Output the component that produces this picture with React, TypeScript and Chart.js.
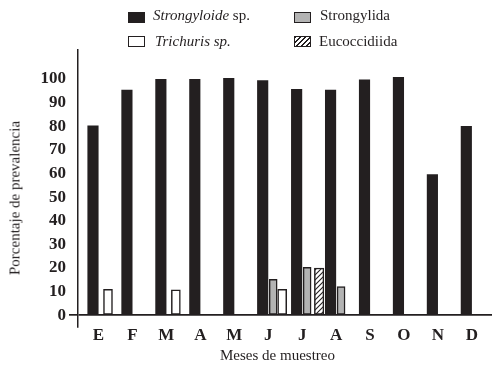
import React, { useEffect, useRef } from 'react';
import { Chart, registerables } from 'chart.js';

Chart.register(...registerables);

// ---- data ----
const months = ['E', 'F', 'M', 'A', 'M', 'J', 'J', 'A', 'S', 'O', 'N', 'D'];
const strongyloide = [80.2, 95.3, 99.9, 99.9, 100.3, 99.3, 95.6, 95.3, 99.7, 100.7, 59.5, 80.0];
const strongylida = [null, null, null, null, null, 15.2, 20.3, 12.1, null, null, null, null];
const trichuris = [11.0, null, 10.7, null, null, 11.0, null, null, null, null, null, null];
const eucoccidiida = [null, null, null, null, null, null, 20.0, null, null, null, null, null];
const yTicks = [0, 10, 20, 30, 40, 50, 60, 70, 80, 90, 100];
const xTitle = 'Meses de muestreo';
const yTitle = 'Porcentaje de prevalencia';

const INK = '#231f20';
const GRAY = '#b3b3b3';
const SERIF = '"Liberation Serif", "DejaVu Serif", serif';

const toPoints = (arr: (number | null)[]) => arr.map((y, x) => ({ x, y }));

function makeHatch(): CanvasPattern | string {
  const c = document.createElement('canvas');
  c.width = 5;
  c.height = 5;
  const g = c.getContext('2d');
  if (!g) return '#ffffff';
  g.fillStyle = '#ffffff';
  g.fillRect(0, 0, 5, 5);
  g.strokeStyle = INK;
  g.lineWidth = 1.1;
  g.beginPath();
  g.moveTo(0, 5);
  g.lineTo(5, 0);
  g.moveTo(-1, 1);
  g.lineTo(1, -1);
  g.moveTo(4, 6);
  g.lineTo(6, 4);
  g.stroke();
  return g.createPattern(c, 'repeat') || '#ffffff';
}

const legendText: React.CSSProperties = {
  position: 'absolute',
  fontFamily: SERIF,
  fontSize: 15,
  lineHeight: '15px',
  color: INK,
  whiteSpace: 'nowrap',
};

const box = (extra: React.CSSProperties): React.CSSProperties => ({
  position: 'absolute',
  width: 17,
  height: 11,
  boxSizing: 'border-box',
  border: `1.5px solid ${INK}`,
  ...extra,
});

export default function App() {
  const canvasRef = useRef<HTMLCanvasElement | null>(null);

  useEffect(() => {
    const canvas = canvasRef.current;
    if (!canvas) return;
    const hatch = makeHatch();
    const zeroOnly = (ctx: any) => (ctx.tick && ctx.tick.value === 0 ? INK : 'rgba(0,0,0,0)');

    const chart = new Chart(canvas, {
      type: 'bar',
      data: {
        datasets: [
          {
            label: 'Strongyloide sp.',
            data: toPoints(strongyloide),
            stack: 'a',
            backgroundColor: INK,
            borderWidth: 0,
            barThickness: 10.5,
            maxBarThickness: 10.5,
          },
          {
            label: 'Strongylida',
            data: toPoints(strongylida),
            stack: 'b',
            backgroundColor: GRAY,
            borderColor: INK,
            borderWidth: 1.5,
            borderSkipped: false,
            barThickness: 10.5,
            maxBarThickness: 8,
          },
          {
            label: 'Trichuris sp.',
            data: toPoints(trichuris),
            stack: 'c',
            skipNull: true,
            backgroundColor: '#ffffff',
            borderColor: INK,
            borderWidth: 1.5,
            borderSkipped: false,
            barThickness: 9,
            maxBarThickness: 9,
          },
          {
            label: 'Eucoccidiida',
            data: toPoints(eucoccidiida),
            stack: 'c',
            skipNull: true,
            backgroundColor: hatch,
            borderColor: INK,
            borderWidth: 1.5,
            borderSkipped: false,
            barThickness: 12,
            maxBarThickness: 9.5,
          },
        ] as any,
      },
      options: {
        responsive: false,
        maintainAspectRatio: false,
        animation: false,
        events: [],
        layout: { padding: { left: 6, right: 0, top: 50, bottom: 11 } },
        plugins: {
          legend: { display: false },
          tooltip: { enabled: false },
        },
        scales: {
          x: {
            type: 'linear',
            min: -0.751,
            max: 11.447,
            offset: false,
            afterBuildTicks: (s: any) => {
              s.ticks = months.map((_, i) => ({ value: i }));
            },
            afterFit: (s: any) => {
              s.height = 37;
            },
            grid: { display: false, drawTicks: false },
            border: { display: false },
            ticks: {
              autoSkip: false,
              maxRotation: 0,
              padding: 0,
              labelOffset: -5,
              color: INK,
              font: { family: SERIF, size: 17, weight: 'bold', lineHeight: 1 },
              callback: (_v: any, i: number) => months[i],
            },
            title: { display: false },
          },
          y: {
            min: -5,
            max: 112.3,
            stacked: false,
            afterBuildTicks: (s: any) => {
              s.ticks = yTicks.map((v) => ({ value: v }));
            },
            afterFit: (s: any) => {
              s.width = 72;
            },
            grid: {
              color: zeroOnly,
              tickColor: zeroOnly,
              lineWidth: 1.7,
              tickLength: 9,
              drawTicks: true,
            },
            border: { display: true, color: INK, width: 1.5 },
            ticks: {
              padding: 3,
              color: INK,
              font: { family: SERIF, size: 17, weight: 'bold' },
            },
            title: { display: false },
          },
        },
      } as any,
    });
    return () => chart.destroy();
  }, []);

  return (
    <div
      style={{
        position: 'fixed',
        left: 0,
        top: 0,
        width: 492,
        height: 375,
        background: '#ffffff',
        overflow: 'hidden',
      }}
    >
      <canvas ref={canvasRef} width={492} height={375} style={{ display: 'block', width: 492, height: 375 }} />
      {/* axis titles */}
      <div
        style={{
          ...legendText,
          left: 277.5,
          top: 355,
          transform: 'translate(-50%, -50%)',
        }}
      >
        {xTitle}
      </div>
      <div
        style={{
          ...legendText,
          left: 15,
          top: 197.5,
          transform: 'translate(-50%, -50%) rotate(-90deg)',
        }}
      >
        {yTitle}
      </div>
      {/* legend */}
      <div style={box({ left: 128, top: 12, background: INK })} />
      <div style={{ ...legendText, left: 153, top: 8 }}>
        <i>Strongyloide</i> sp.
      </div>
      <div style={box({ left: 128, top: 35.5, background: '#ffffff' })} />
      <div style={{ ...legendText, left: 155, top: 33.5 }}>
        <i>Trichuris sp.</i>
      </div>
      <div style={box({ left: 294, top: 11.5, background: GRAY })} />
      <div style={{ ...legendText, left: 320, top: 8 }}>Strongylida</div>
      <div
        style={box({
          left: 294,
          top: 35.5,
          background: `repeating-linear-gradient(135deg, ${INK} 0px, ${INK} 1px, #ffffff 1px, #ffffff 3.5px)`,
        })}
      />
      <div style={{ ...legendText, left: 319, top: 33.5 }}>Eucoccidiida</div>
    </div>
  );
}
